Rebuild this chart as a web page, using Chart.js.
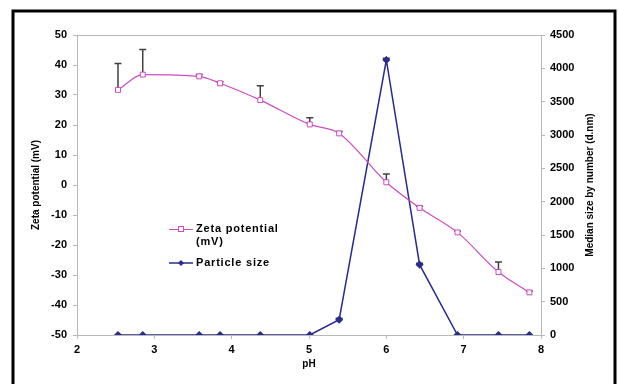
<!DOCTYPE html>
<html lang="en">

<head>
    <meta charset="UTF-8">
    <title>Zeta potential and particle size vs pH</title>
    <script src="https://cdn.jsdelivr.net/npm/chart.js"></script>
    <style>
        body { margin: 0; background: #fff; }
        .wrap { position: relative; width: 619px; height: 384px; }
    </style>
</head>

<body>
    <div class="wrap">
        <canvas id="ph-chart"></canvas>
    </div>

    <script>
        // values
        const ph = [2.53, 2.85, 3.58, 3.85, 4.37, 5.01, 5.39, 6.0, 6.43, 6.92, 7.45, 7.85];
        const zeta = [31.7, 36.8, 36.2, 33.9, 28.3, 20.2, 17.2, 0.9, -7.6, -15.8, -29.0, -35.8];
        const zetaErr = [8.8, 8.4, 0.6, 0.5, 4.8, 2.2, 0.6, 2.8, 0.5, 0.5, 3.3, 0.5];
        const size = [0, 0, 0, 0, 0, 0, 230, 4125, 1055, 0, 0, 0];
        const sizeErr = [0, 0, 0, 0, 0, 0, 20, 25, 20, 0, 0, 0];

        const xTicks = [2, 3, 4, 5, 6, 7, 8];
        const zetaTicks = [-50, -40, -30, -20, -10, 0, 10, 20, 30, 40, 50];
        const sizeTicks = [0, 500, 1000, 1500, 2000, 2500, 3000, 3500, 4000, 4500];

        const pink = '#cc4cc0';
        const navy = '#2b2b8c';
        const axisGrey = '#b8b8b8';
        const fontFamily = '"Liberation Sans", Arial, sans-serif';

        Chart.defaults.font.family = fontFamily;
        Chart.defaults.color = '#000';

        const tickFont = { size: 11, weight: 'bold' };
        const titleFont = { size: 10, weight: 'bold' };

        // outer black frame + top edge of plot area
        const framePlugin = {
            id: 'frame',
            beforeDraw(chart) {
                const ctx = chart.ctx;
                const a = chart.chartArea;
                ctx.save();
                ctx.strokeStyle = '#000';
                ctx.lineWidth = 3;
                ctx.strokeRect(13, 11, 602, 420);
                ctx.strokeStyle = axisGrey;
                ctx.lineWidth = 1;
                ctx.beginPath();
                ctx.moveTo(a.left, Math.round(a.top) + 0.5);
                ctx.lineTo(a.right, Math.round(a.top) + 0.5);
                ctx.stroke();
                ctx.restore();
            },
            // right axis title reads bottom-to-top like the left one
            afterDraw(chart) {
                const ctx = chart.ctx;
                const a = chart.chartArea;
                ctx.save();
                ctx.translate(590, (a.top + a.bottom) / 2);
                ctx.rotate(-Math.PI / 2);
                ctx.font = 'bold 10px ' + fontFamily;
                ctx.fillStyle = '#000';
                ctx.textAlign = 'center';
                ctx.textBaseline = 'middle';
                ctx.fillText('Median size by number (d.nm)', 0, 0);
                ctx.restore();
            }
        };

        // upward error bars, drawn under the markers
        const errorPlugin = {
            id: 'errors',
            beforeDatasetsDraw(chart) {
                const ctx = chart.ctx;
                const xs = chart.scales.x;
                ctx.save();
                ctx.strokeStyle = '#404040';
                ctx.lineWidth = 1.5;
                const sets = [[zeta, zetaErr, chart.scales.y], [size, sizeErr, chart.scales.y2]];
                sets.forEach(([vals, errs, ys]) => {
                    vals.forEach((v, i) => {
                        if (!errs[i]) return;
                        const px = xs.getPixelForValue(ph[i]);
                        const y0 = ys.getPixelForValue(v);
                        const y1 = ys.getPixelForValue(v + errs[i]);
                        ctx.beginPath();
                        ctx.moveTo(px, y0);
                        ctx.lineTo(px, y1);
                        ctx.moveTo(px - 3.5, y1);
                        ctx.lineTo(px + 3.5, y1);
                        ctx.stroke();
                    });
                });
                ctx.restore();
            }
        };

        // legend inside the plot
        const legendPlugin = {
            id: 'innerLegend',
            afterDraw(chart) {
                const ctx = chart.ctx;
                const x0 = 169, x1 = 193, tx = 196;
                ctx.save();
                ctx.font = 'bold 11px ' + fontFamily;
                ctx.letterSpacing = '0.8px';
                ctx.fillStyle = '#000';
                ctx.textBaseline = 'middle';

                ctx.strokeStyle = pink;
                ctx.lineWidth = 1;
                ctx.beginPath();
                ctx.moveTo(x0, 229.5);
                ctx.lineTo(x1, 229.5);
                ctx.stroke();
                ctx.fillStyle = '#fff';
                ctx.fillRect(178, 226, 6, 6);
                ctx.strokeRect(178.5, 226.5, 5, 5);
                ctx.fillStyle = '#000';
                ctx.fillText('Zeta potential', tx, 229);
                ctx.fillText('(mV)', tx, 242);

                ctx.strokeStyle = navy;
                ctx.lineWidth = 1.5;
                ctx.beginPath();
                ctx.moveTo(x0, 263);
                ctx.lineTo(x1, 263);
                ctx.stroke();
                ctx.fillStyle = navy;
                ctx.beginPath();
                ctx.moveTo(181, 260);
                ctx.lineTo(184, 263);
                ctx.lineTo(181, 266);
                ctx.lineTo(178, 263);
                ctx.closePath();
                ctx.fill();
                ctx.fillStyle = '#000';
                ctx.fillText('Particle size', tx, 263);
                ctx.restore();
            }
        };

        const toTicks = list => scale => { scale.ticks = list.map(v => ({ value: v })); };
        const plain = v => String(v);

        new Chart(document.getElementById('ph-chart'), {
            type: 'line',
            data: {
                datasets: [
                    {
                        label: 'Zeta potential (mV)',
                        data: ph.map((p, i) => ({ x: p, y: zeta[i] })),
                        yAxisID: 'y',
                        borderColor: pink,
                        borderWidth: 1.2,
                        cubicInterpolationMode: 'monotone',
                        pointStyle: 'rect',
                        pointRadius: 3.5,
                        pointBorderWidth: 1,
                        pointBackgroundColor: '#fff',
                        pointBorderColor: pink
                    },
                    {
                        label: 'Particle size',
                        data: ph.map((p, i) => ({ x: p, y: size[i] })),
                        yAxisID: 'y2',
                        borderColor: navy,
                        borderWidth: 1.5,
                        tension: 0,
                        pointStyle: 'rectRot',
                        pointRadius: 3,
                        pointBackgroundColor: navy,
                        pointBorderColor: navy
                    }
                ]
            },
            options: {
                responsive: true,
                maintainAspectRatio: false,
                animation: false,
                layout: { padding: { top: 35, left: 0, right: 0, bottom: 0 } },
                plugins: { legend: { display: false }, tooltip: { enabled: false } },
                scales: {
                    x: {
                        type: 'linear', min: 2, max: 8,
                        afterBuildTicks: toTicks(xTicks),
                        afterFit(s) { s.height = 49; },
                        ticks: { font: tickFont, padding: 4, maxRotation: 0, callback: plain },
                        grid: { drawOnChartArea: false, tickLength: 4, color: axisGrey },
                        border: { color: axisGrey },
                        title: { display: true, text: 'pH', font: titleFont, padding: { top: 0, bottom: 14 } }
                    },
                    y: {
                        position: 'left', min: -50, max: 50,
                        afterBuildTicks: toTicks(zetaTicks),
                        afterFit(s) { s.width = 77; },
                        ticks: { font: tickFont, padding: 6, callback: plain },
                        grid: { drawOnChartArea: false, tickLength: 4, color: axisGrey },
                        border: { color: axisGrey },
                        title: { display: true, text: 'Zeta potential (mV)', font: titleFont, padding: { top: 30, bottom: 0 } }
                    },
                    y2: {
                        position: 'right', min: 0, max: 4500,
                        afterBuildTicks: toTicks(sizeTicks),
                        afterFit(s) { s.width = 78; },
                        ticks: { font: tickFont, padding: 5, callback: plain },
                        grid: { drawOnChartArea: false, tickLength: 4, color: axisGrey },
                        border: { color: axisGrey }
                    }
                }
            },
            plugins: [framePlugin, errorPlugin, legendPlugin]
        });
    </script>
</body>

</html>
